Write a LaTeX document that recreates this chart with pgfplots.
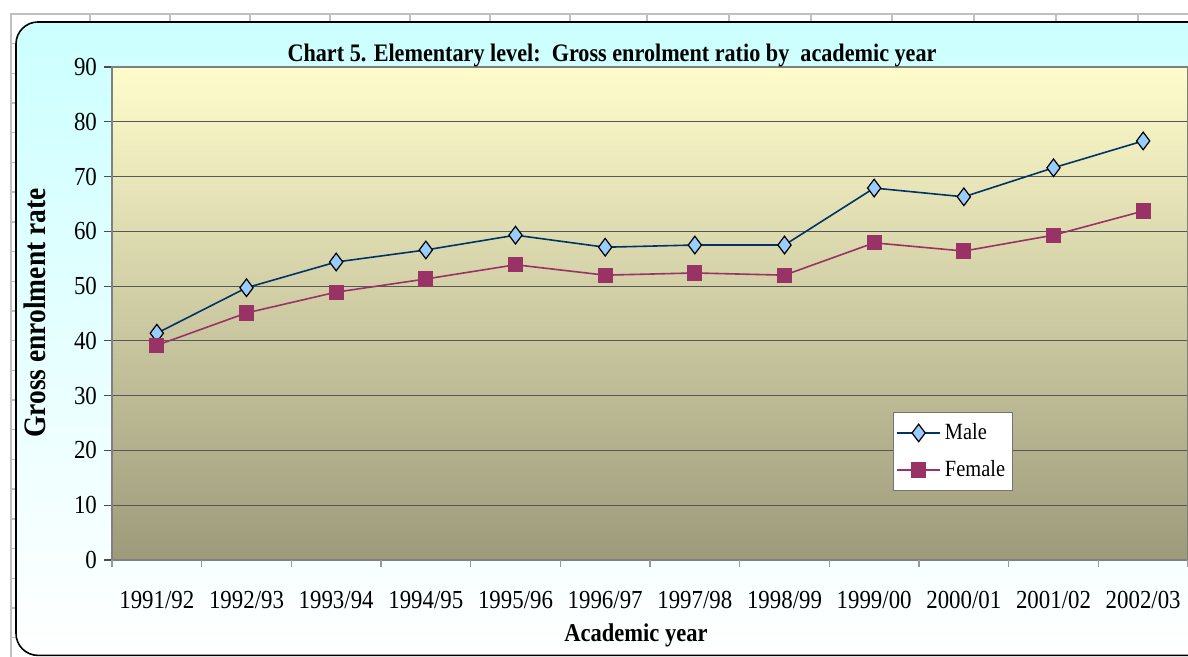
\documentclass[border=0pt]{standalone}
\usepackage{fontspec}
\setmainfont{Liberation Serif}[FakeStretch=0.88]
\usepackage{pgfplots}
\pgfplotsset{compat=1.18}
\definecolor{cyanbg}{HTML}{CCFFFF}
\definecolor{plottop}{RGB}{255,252,204}
\definecolor{plotbot}{RGB}{156,154,122}
\definecolor{maleline}{HTML}{003366}
\definecolor{malefill}{HTML}{99CCFF}
\definecolor{femcol}{HTML}{993366}
\definecolor{sheetgrid}{RGB}{192,192,192}
\begin{document}
\begin{tikzpicture}
\useasboundingbox (0pt,0pt) rectangle (594pt,328.5pt);
% spreadsheet grid behind the chart
\draw[sheetgrid, line width=0.7pt] (5pt,321.5pt) -- (600pt,321.5pt);
\draw[sheetgrid, line width=0.7pt] (5.5pt,321.5pt) -- (5.5pt,0pt);
\foreach \x in {45,85,125,165,205,245,285,323.5,364.5,405.5,446,487,528,569}
  \draw[sheetgrid, line width=0.7pt] (\x pt,321.5pt) -- (\x pt,317pt);
\foreach \k in {1,...,21}
  \draw[sheetgrid, line width=0.7pt] (5.5pt,321.5pt-14.85pt*\k) -- (8pt,321.5pt-14.85pt*\k);
% chart area
\path[draw=black, line width=0.8pt, top color=cyanbg, bottom color=white, rounded corners=11pt]
  (8pt,0.8pt) rectangle (620pt,317.5pt);
\begin{axis}[
  at={(56pt,48.5pt)}, anchor=south west,
  scale only axis, width=538pt, height=246.5pt,
  xmin=-0.5, xmax=11.5, ymin=0, ymax=90,
  ytick={0,10,...,90},
  xtick={0,...,11},
  xticklabels={1991/92,1992/93,1993/94,1994/95,1995/96,1996/97,1997/98,1998/99,1999/00,2000/01,2001/02,2002/03},
  xtick style={draw=none},
  ytick style={draw=black!70, line width=0.6pt},
  tick align=outside,
  major tick length=4pt,
  ymajorgrids,
  grid style={draw=black!66, line width=0.6pt},
  axis line style={draw=black!50, line width=0.8pt},
  axis background/.style={top color=plottop, bottom color=plotbot},
  /pgf/number format/assume math mode=true,
  ticklabel style={font=\fontsize{13}{15}\selectfont},
  xticklabel style={anchor=base, yshift=-20.5pt},
  clip=false,
  every axis title shift=0pt,
  title={\bfseries Chart 5. Elementary level:\ \ Gross enrolment ratio by\ \ academic year},
  title style={at={(rel axis cs:0.4647,1.012)}, anchor=base, font=\fontsize{12.6}{14}\selectfont},
  ylabel={\bfseries Gross enrolment rate},
  every axis y label/.style={at={(rel axis cs:-0.0716,0.501)}, rotate=90, anchor=center, font=\fontsize{15.6}{17}\selectfont},
  xlabel={\bfseries Academic year},
  every axis x label/.style={at={(rel axis cs:0.487,-0.1663)}, anchor=base, font=\fontsize{12.8}{14}\selectfont},
  legend style={at={(rel axis cs:0.7258,0.3002)}, anchor=north west, draw=black!55, fill=white,
    font=\fontsize{11.6}{13}\selectfont, row sep=5pt, inner xsep=1.5pt, inner ysep=3.5pt},
  legend cell align=left,
  legend image code/.code={\draw[mark repeat=2,mark phase=2] plot coordinates {(0pt,0pt) (10.75pt,0pt) (21.5pt,0pt)};},
]
\pgfplotsinvokeforeach{-0.5,0.5,1.5,2.5,3.5,4.5,5.5,6.5,7.5,8.5,9.5,10.5,11.5}{
  \draw[black!40, line width=0.6pt] (axis cs:#1,0) -- ++(0pt,-3.5pt);
}
\addplot[color=maleline, line width=0.8pt, mark=diamond*, mark size=4.4pt,
  mark options={fill=malefill, draw=black, line width=0.6pt}]
  coordinates {(0,41.4) (1,49.7) (2,54.4) (3,56.6) (4,59.3) (5,57.1) (6,57.5) (7,57.5) (8,67.9) (9,66.3) (10,71.6) (11,76.5)};
\addlegendentry{Male}
\addplot[color=femcol, line width=0.8pt, mark=square*, mark size=3.4pt,
  mark options={fill=femcol, draw=femcol}]
  coordinates {(0,39.2) (1,45.1) (2,48.9) (3,51.3) (4,53.9) (5,52.0) (6,52.4) (7,52.0) (8,57.9) (9,56.4) (10,59.3) (11,63.7)};
\addlegendentry{Female}
\end{axis}
\end{tikzpicture}
\end{document}
